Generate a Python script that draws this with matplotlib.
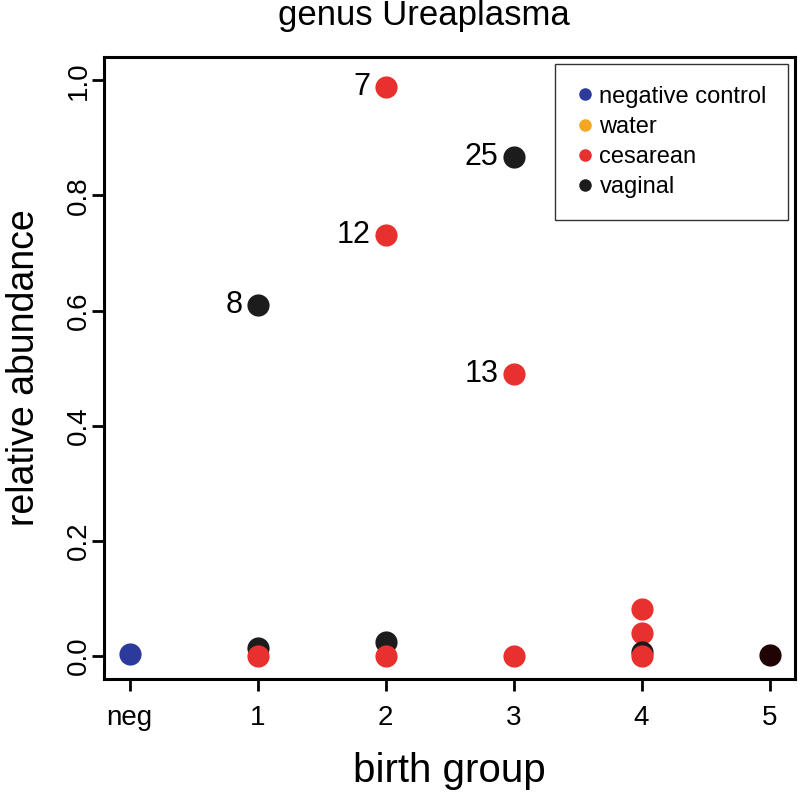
import matplotlib
matplotlib.use("Agg")
import matplotlib.pyplot as plt
from matplotlib.lines import Line2D

plt.rcParams["font.family"] = ["Liberation Sans", "DejaVu Sans"]

COLORS = {"negative control": "#2c3a9c", "water": "#f5a623",
          "cesarean": "#e8302f", "vaginal": "#1c1c1c"}

# birth group position (0 = neg), abundance, type, sample label
xpos = [0, 1, 1, 1, 2, 2, 2, 2, 3, 3, 3, 4, 4, 4, 4, 5]
abund = [0.003, 0.610, 0.014, 0.0, 0.988, 0.731, 0.024, 0.0, 0.866, 0.490, 0.0,
         0.082, 0.040, 0.007, 0.0, 0.001]
kind = ["negative control", "vaginal", "vaginal", "cesarean", "cesarean", "cesarean",
        "vaginal", "cesarean", "vaginal", "cesarean", "cesarean",
        "cesarean", "cesarean", "vaginal", "cesarean", "dark"]
labels = ["", "8", "", "", "7", "12", "", "", "25", "13", "", "", "", "", "", ""]
xticklabels = ["neg", "1", "2", "3", "4", "5"]

fig = plt.figure(figsize=(8, 7.92), dpi=100)
ax = fig.add_axes([0.13, 0.1427, 0.864, 0.785])

for x, y, k, lab in zip(xpos, abund, kind, labels):
    c = COLORS.get(k, "#200404")
    ax.scatter(x, y, s=255, color=c, zorder=3, linewidths=0)
    if lab:
        ax.annotate(lab, (x, y), xytext=(-11, 0), textcoords="offset points",
                    ha="right", va="center", fontsize=22)

ax.set_xlim(-0.2, 5.2)
ax.set_ylim(-0.04, 1.04)
ax.set_xticks(range(6))
ax.set_xticklabels(xticklabels)
ax.set_yticks([0, 0.2, 0.4, 0.6, 0.8, 1.0])
ax.set_yticklabels(["0.0", "0.2", "0.4", "0.6", "0.8", "1.0"], rotation=90, va="center")
ax.tick_params(labelsize=20, length=8.5, width=2)
ax.tick_params(axis="x", pad=10)
ax.tick_params(axis="y", pad=0)
for sp in ax.spines.values():
    sp.set_linewidth(2.2)

ax.set_xlabel("birth group", fontsize=29)
ax.xaxis.set_label_coords(0.5, -0.117)
ax.set_ylabel("relative abundance", fontsize=27)
ax.yaxis.set_label_coords(-0.09, 0.5)
fig.text(0.53, 0.968, "genus Ureaplasma", fontsize=25, ha="center", va="baseline")

handles = [Line2D([0], [0], marker="o", ls="", color=c, ms=8, label=k) for k, c in COLORS.items()]
leg = ax.legend(handles=handles, loc="upper right", fontsize=17, frameon=True, fancybox=False,
                edgecolor="black", handletextpad=0.2, handlelength=0.8, borderpad=0.9,
                labelspacing=0.35, borderaxespad=0.3)
leg.get_frame().set_linewidth(1.0)

fig.savefig("out.png", dpi=100)
